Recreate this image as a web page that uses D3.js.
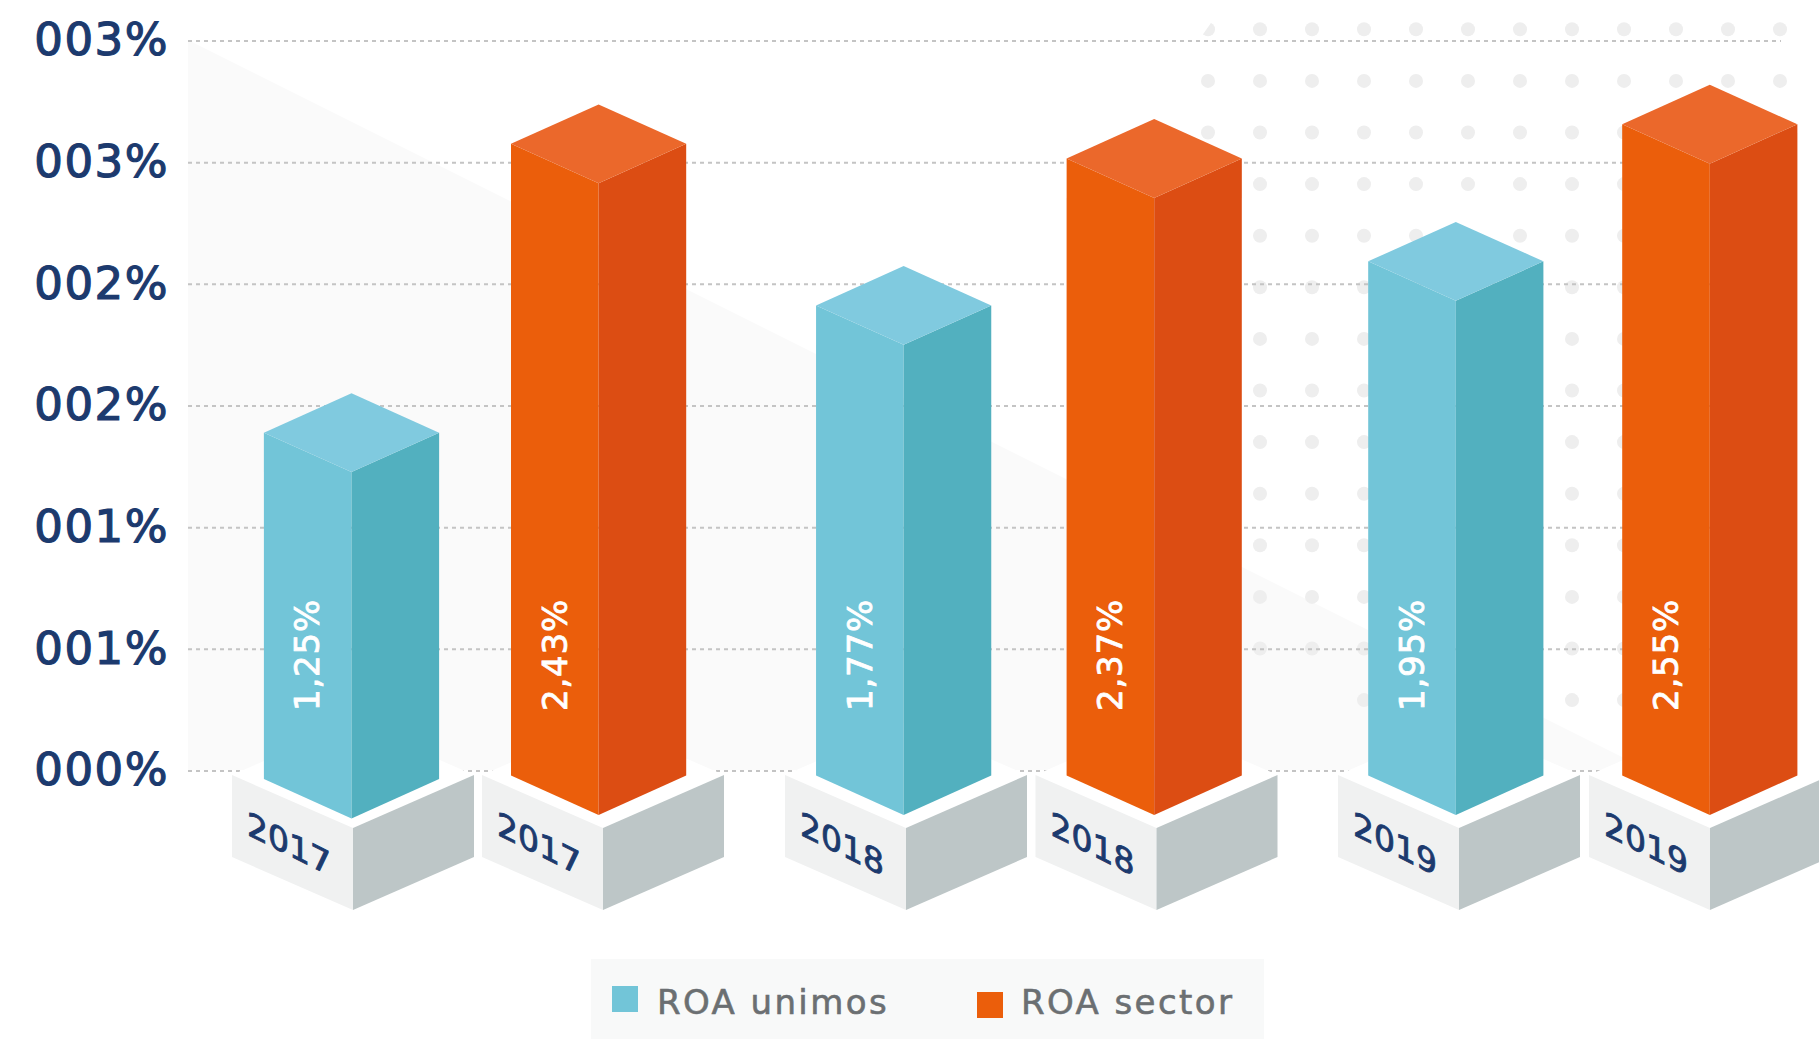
<!DOCTYPE html>
<html lang="en">

<head>
  <meta charset="UTF-8">
  <title>ROA</title>
  <style>
    body { margin: 0; background: #fff; }
    svg { display: block; }
  </style>
</head>

<body>
  <svg></svg>
  <script src="https://cdn.jsdelivr.net/npm/d3@7"></script>
  <script>
    var years = ["2017", "2018", "2019"];
    // bar heights read against the picture; the last sector bar is drawn shorter than its 2,55% label
    var roaUnimos = [1.25, 1.77, 1.95];
    var roaSector = [2.43, 2.37, 2.51];
    var labelsUnimos = ["1,25%", "1,77%", "1,95%"];
    var labelsSector = ["2,43%", "2,37%", "2,55%"];
    var tickValues = [0, 0.5, 1, 1.5, 2, 2.5, 3];
    var tickLabels = ["000%", "001%", "001%", "002%", "002%", "003%", "003%"];
    var seriesNames = ["ROA unimos", "ROA sector"];

    var width = 1819, height = 1039;
    var font = "'DejaVu Sans', sans-serif";
    var svg = d3.select("svg").attr("width", width).attr("height", height);

    var y = d3.scaleLinear().domain([0, 3]).range([770.5, 40.5]);
    // top of the bars sits above the gridlines in the original, so it gets its own scale
    var barTop = d3.scaleLinear().domain([0, 3]).range([738.7, 4.3]);

    var xBar = {
      unimos: d3.scalePoint().domain(years).range([351.5, 1455.8]),
      sector: d3.scalePoint().domain(years).range([598.6, 1709.8])
    };
    var xBase = {
      unimos: d3.scalePoint().domain(years).range([353, 1459]),
      sector: d3.scalePoint().domain(years).range([603, 1710])
    };

    var colors = {
      unimos: { front: "#72c5d8", side: "#52b0bf", top: "#80cadf" },
      sector: { front: "#eb5e0b", side: "#dc4d13", top: "#eb682b" }
    };

    var barHalf = 87.6, barDepth = 39.4, barFoot = 775.5;
    var baseHalf = 121, baseDepth = 53, baseTop = 775, baseFaceH = 82;

    // 背景三角形
    svg.append("polygon")
      .attr("points", [[188, 40], [188, 770], [1648, 770]].join(" "))
      .attr("fill", "#fafafa");

    // 背景圆点
    var dotXs = d3.range(12).map(function (i) { return 1208 + i * 52; });
    var dotYs = d3.range(14).map(function (i) { return 29.3 + i * 51.6; });
    var dots = d3.cross(dotXs, dotYs);
    svg.append("clipPath").attr("id", "dotClip")
      .append("polygon")
      .attr("points", [[1213, 20], [1199, 40], [1199, 675], [1355, 675], [1355, 720], [1830, 720], [1830, 20]].join(" "));
    svg.append("g")
      .attr("clip-path", "url(#dotClip)")
      .selectAll("circle")
      .data(dots)
      .join("circle")
      .attr("cx", function (d) { return d[0]; })
      .attr("cy", function (d) { return d[1]; })
      .attr("r", 7)
      .attr("fill", "#eeeeee");

    // 坐标轴和网格线
    var axis = d3.axisLeft(y)
      .tickValues(tickValues)
      .tickFormat(function (d, i) { return tickLabels[i]; })
      .tickSize(-1593)
      .tickPadding(19);
    var axisG = svg.append("g")
      .attr("class", "axis")
      .attr("transform", "translate(188,0)")
      .call(axis);
    axisG.select(".domain").remove();
    axisG.selectAll("line")
      .attr("stroke", "#c4c4c4")
      .attr("stroke-width", 2)
      .attr("stroke-dasharray", "4 4");
    axisG.selectAll("text")
      .attr("font-family", font)
      .attr("font-size", 45)
      .attr("letter-spacing", 1.5)
      .attr("fill", "#1c3a6e")
      .attr("stroke", "#1c3a6e")
      .attr("stroke-width", 1.2);

    function poly(g, pts, fill) {
      g.append("polygon").attr("points", pts.join(" ")).attr("fill", fill);
    }

    function drawBar(key, values, labels) {
      years.forEach(function (year, i) {
        var cx = xBar[key](year), bx = xBase[key](year);
        var g = svg.append("g").attr("class", "bar-" + key);
        var c = colors[key];
        // first bar stands a little lower on its base in the original
        var foot = barFoot + (key === "unimos" && i === 0 ? 3.5 : 0);

        // 底座
        poly(g, [[bx - baseHalf, baseTop], [bx, baseTop - baseDepth], [bx + baseHalf, baseTop], [bx, baseTop + baseDepth]], "#fff");
        poly(g, [[bx - baseHalf, baseTop], [bx, baseTop + baseDepth], [bx, baseTop + baseDepth + baseFaceH], [bx - baseHalf, baseTop + baseFaceH]], "#f0f1f1");
        poly(g, [[bx + baseHalf, baseTop], [bx, baseTop + baseDepth], [bx, baseTop + baseDepth + baseFaceH], [bx + baseHalf, baseTop + baseFaceH]], "#bdc6c7");

        g.append("text")
          .attr("transform", "matrix(1,0.5,0,1," + (bx - 64) + "," + (baseTop + 69) + ")")
          .attr("text-anchor", "middle")
          .attr("dy", "0.35em")
          .attr("font-family", font)
          .attr("font-size", 33)
          .attr("fill", "#1c3a6e")
          .attr("stroke", "#1c3a6e")
          .attr("stroke-width", 0.9)
          .text(year);

        // 柱子
        var t = barTop(values[i]);
        poly(g, [[cx - barHalf, t], [cx, t + barDepth], [cx, foot + barDepth], [cx - barHalf, foot]], c.front);
        poly(g, [[cx + barHalf, t], [cx, t + barDepth], [cx, foot + barDepth], [cx + barHalf, foot]], c.side);
        poly(g, [[cx - barHalf, t], [cx, t - barDepth], [cx + barHalf, t], [cx, t + barDepth]], c.top);

        g.append("text")
          .attr("transform", "translate(" + (cx - 44) + ",711) rotate(-90)")
          .attr("dy", "0.35em")
          .attr("font-family", font)
          .attr("font-size", 34)
          .attr("letter-spacing", 0.8)
          .attr("fill", "#fff")
          .attr("stroke", "#fff")
          .attr("stroke-width", 0.8)
          .text(labels[i]);
      });
    }

    drawBar("unimos", roaUnimos, labelsUnimos);
    drawBar("sector", roaSector, labelsSector);

    // 图例
    var legend = svg.append("g").attr("id", "legend");
    legend.append("rect")
      .attr("x", 591).attr("y", 959)
      .attr("width", 673).attr("height", 80)
      .attr("fill", "#f8f9f9");
    var legendItems = [
      { swatchX: 612, swatchY: 986, textX: 657, color: colors.unimos.front },
      { swatchX: 977, swatchY: 992, textX: 1021, color: colors.sector.front }
    ];
    legend.selectAll("rect.swatch")
      .data(legendItems)
      .join("rect")
      .attr("class", "swatch")
      .attr("x", function (d) { return d.swatchX; })
      .attr("y", function (d) { return d.swatchY; })
      .attr("width", 26)
      .attr("height", 26)
      .attr("fill", function (d) { return d.color; });
    legend.selectAll("text")
      .data(legendItems)
      .join("text")
      .attr("x", function (d) { return d.textX; })
      .attr("y", 1014)
      .attr("font-family", font)
      .attr("font-size", 34)
      .attr("letter-spacing", 2.4)
      .attr("fill", "#6b6f72")
      .attr("stroke", "#6b6f72")
      .attr("stroke-width", 0.6)
      .text(function (d, i) { return seriesNames[i]; });
  </script>
</body>

</html>
